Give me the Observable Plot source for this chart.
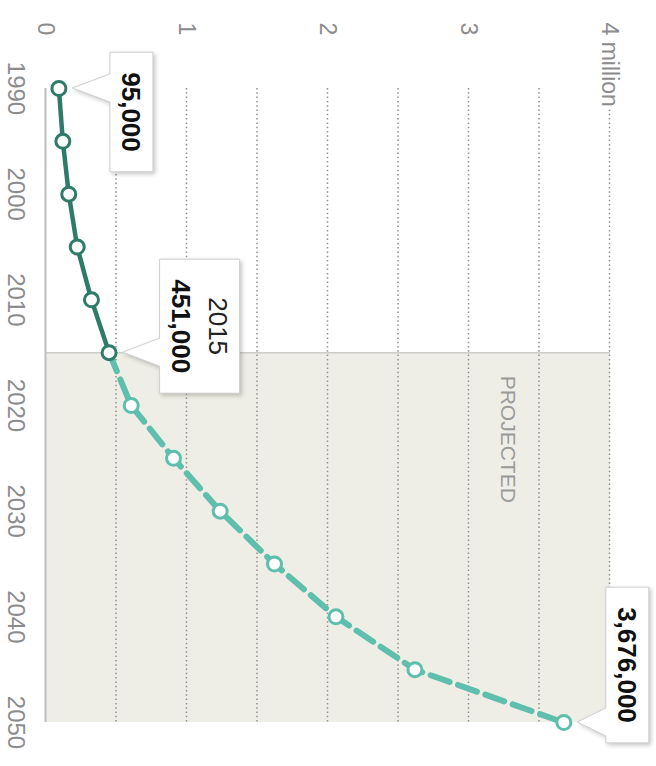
<!DOCTYPE html>
<html>
<head>
<meta charset="utf-8">
<script src="https://cdn.jsdelivr.net/npm/d3@7"></script>
<script src="https://cdn.jsdelivr.net/npm/@observablehq/plot@0.6"></script>
<style>
  html, body { margin: 0; padding: 0; background: #fff; }
  #chart { position: relative; width: 656px; height: 766px; overflow: hidden; background: #fff; }
  /* the chart is laid out landscape and turned a quarter clockwise */
  #chart svg { position: absolute; left: 0; top: 0; max-width: none; transform-origin: 0 0; transform: translate(656px, 0) rotate(90deg); }
</style>
</head>
<body>
<div id="chart"></div>
<script>
// Population by year (people); 2015 onward is projected
const years = [1990, 1995, 2000, 2005, 2010, 2015, 2020, 2025, 2030, 2035, 2040, 2045, 2050];
const population = [95000, 123000, 165000, 225000, 326000, 451000, 608000, 908000, 1239000, 1624000, 2060000, 2620000, 3676000];
const projectionStartYear = 2015;

// Axis ticks
const yearTicks = [1990, 2000, 2010, 2020, 2030, 2040, 2050];
const valueTicks = [0, 1000000, 2000000, 3000000, 4000000];
const valueTickLabels = ["0", "1", "2", "3", "4 million"];
const gridValues = [500000, 1000000, 1500000, 2000000, 2500000, 3000000, 3500000, 4000000];

// Labelled points
const calloutYears = [1990, 2015, 2050];
const calloutValues = [95000, 451000, 3676000];
const calloutHeadings = ["", "2015", ""];

const FONT = '"Liberation Sans", Arial, Helvetica, sans-serif';
const firstYear = years[0], lastYear = years[years.length - 1];
const topValue = valueTicks[valueTicks.length - 1];

const rows = years.map((year, i) => ({year, value: population[i]}));
const history = rows.filter(d => d.year <= projectionStartYear);
const projection = rows.filter(d => d.year >= projectionStartYear);
const projectionDots = rows.filter(d => d.year > projectionStartYear);

// Box centre relative to its point, in pixels
const calloutPlacement = [[24, -72], [-26, -90], [-57, -63]];

function callouts(index, scales) {
  const fmt = d3.format(",");
  const ctx = document.createElement("canvas").getContext("2d");
  const size = 26, pad = 20, lineStep = 37;
  const g = d3.create("svg:g").attr("font-family", FONT);
  calloutYears.forEach((yr, i) => {
    const px = scales.x(yr), py = scales.y(calloutValues[i]);
    const lines = [];
    if (calloutHeadings[i]) lines.push({text: calloutHeadings[i], weight: "normal"});
    lines.push({text: fmt(calloutValues[i]), weight: "bold"});
    const textW = d3.max(lines, l => { ctx.font = `${l.weight} ${size}px ${FONT}`; return ctx.measureText(l.text).width; });
    const w = textW + 2 * pad, h = 43 + (lines.length - 1) * lineStep;
    const cx = px + calloutPlacement[i][0], cy = py + calloutPlacement[i][1];
    const l = cx - w / 2, r = cx + w / 2, t = cy - h / 2, b = cy + h / 2;
    const b0 = Math.max(l + 3, px - 14), b1 = Math.min(r - 3, px + 14);
    const ax = px, ay = py - 13;
    g.append("path")
      .attr("d", `M${l},${t}H${r}V${b}H${b1}L${ax},${ay}L${b0},${b}H${l}Z`)
      .attr("fill", "#fff")
      .attr("stroke", "#cfcfcf")
      .attr("stroke-width", 1)
      .style("filter", "drop-shadow(2px -2px 2px rgba(0,0,0,0.22))");
    lines.forEach((ln, k) => {
      g.append("text")
        .attr("x", cx)
        .attr("y", cy + (k - (lines.length - 1) / 2) * lineStep)
        .attr("dy", "0.35em")
        .attr("text-anchor", "middle")
        .attr("font-size", size)
        .attr("font-weight", ln.weight)
        .attr("fill", ln.weight === "bold" ? "#111" : "#222")
        .text(ln.text);
    });
  });
  return g.node();
}

const chart = Plot.plot({
  width: 766,
  height: 656,
  marginLeft: 88,
  marginRight: 44,
  marginTop: 46,
  marginBottom: 46,
  style: {fontFamily: FONT, background: "transparent", overflow: "visible"},
  x: {domain: [firstYear, lastYear], label: null},
  y: {domain: [0, topValue], axis: null, label: null},
  marks: [
    // projected period
    Plot.rect([{}], {x1: projectionStartYear, x2: lastYear, y1: 0, y2: topValue, fill: "#efeee6"}),
    Plot.ruleX([projectionStartYear], {y1: 0, y2: topValue, stroke: "#cdcdc8", strokeWidth: 1.5}),
    // dotted grid
    Plot.ruleY(gridValues, {x1: firstYear, x2: lastYear, stroke: "#8f8f8f", strokeWidth: 1.5, strokeDasharray: "1.5,2.8"}),
    Plot.ruleY([0], {x1: firstYear, x2: lastYear, stroke: "#bdbdbd", strokeWidth: 2}),
    Plot.text(["PROJECTED"], {x: projectionStartYear, y: topValue, dx: 23, dy: 102, textAnchor: "start",
      fill: "#9a9a9a", fontSize: 21, letterSpacing: "0.6px"}),
    // value labels
    Plot.text(valueTicks, {y: d => d, text: (d, i) => valueTickLabels[i], frameAnchor: "left", dx: -66, textAnchor: "start",
      fill: "#8c8c8c", fontSize: 23, stroke: "#fff", strokeWidth: 8, paintOrder: "stroke"}),
    Plot.axisX({ticks: yearTicks, tickSize: 0, tickPadding: 20, tickFormat: d => String(d), fontSize: 24, color: "#8c8c8c", label: null}),
    // series
    Plot.line(history, {x: "year", y: "value", stroke: "#2d7b68", strokeWidth: 4.5}),
    Plot.line(projection, {x: "year", y: "value", stroke: "#5dbfac", strokeWidth: 6, strokeDasharray: "20,9"}),
    Plot.dot(history, {x: "year", y: "value", r: 7, fill: "#fff", stroke: "#2d7b68", strokeWidth: 3}),
    Plot.dot(projectionDots, {x: "year", y: "value", r: 7, fill: "#fff", stroke: "#5dbfac", strokeWidth: 3}),
    callouts
  ]
});

document.getElementById("chart").appendChild(chart);
</script>
</body>
</html>
